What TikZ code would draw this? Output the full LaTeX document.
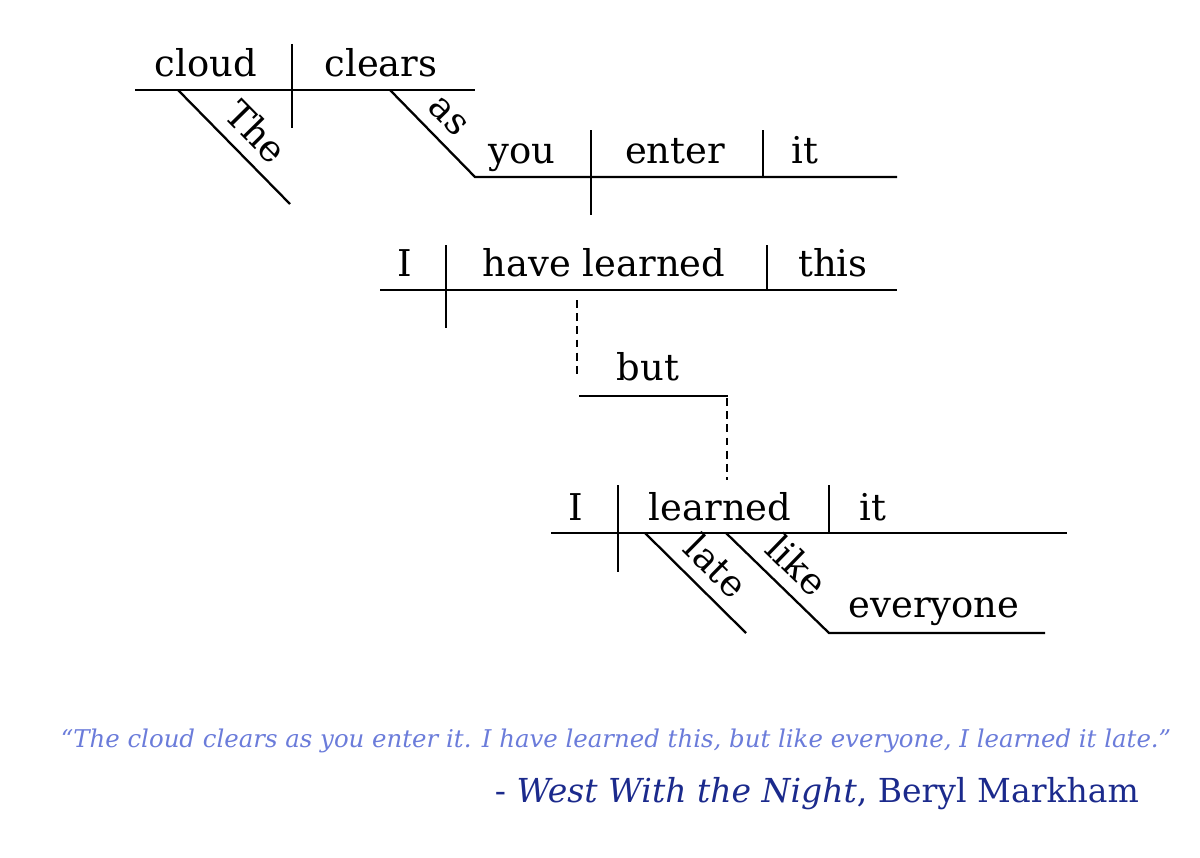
\documentclass[tikz,border=0pt]{standalone}
\usepackage{fontspec}
\setmainfont{DejaVu Serif}
\definecolor{quoteblue}{HTML}{6B7CDA}
\definecolor{creditblue}{HTML}{1B2A8C}

\begin{document}
\begin{tikzpicture}[
  x=0.2mm, y=-0.2mm, line width=1.3pt,
  word/.style={anchor=base, inner sep=0pt, font=\fontsize{21}{24}\selectfont},
  slant/.style={sloped, above, inner sep=6.5pt, font=\fontsize{21}{24}\selectfont},
  link/.style={line width=1.2pt, dash pattern=on 4.5pt off 3pt}
]
\useasboundingbox (0,0) rectangle (1200,857);
% the cloud clears as you enter it
\coordinate (cl-w) at (135,90);
\coordinate (cl-e) at (475,90);
\coordinate (cl-dt) at (292,44);
\coordinate (cl-db) at (292,128);
\coordinate (the-a) at (178,90);
\coordinate (the-b) at (290,204);
\coordinate (as-a) at (390,90);
\coordinate (as-b) at (475,177);
\coordinate (yo-e) at (897,177);
\coordinate (yo-dt) at (591,130);
\coordinate (yo-db) at (591,215);
\coordinate (yo-ot) at (763,130);
\coordinate (yo-ob) at (763,177);
\node[word] (cloud) at (206,77) {cloud};
\node[word] (clears) at (381,77) {clears};
\node[word] (you) at (522,163) {you};
\node[word] (enter) at (675,163) {enter};
\node[word] (it1) at (805,163) {it};
\draw (cl-w) -- (cl-e);
\draw (cl-dt) -- (cl-db);
\draw (the-a) -- node[slant, pos=0.53] (the) {The} (the-b);
\draw (as-a) -- node[slant, pos=0.49] (as) {as} (as-b) -- (yo-e);
\draw (yo-dt) -- (yo-db);
\draw (yo-ot) -- (yo-ob);

% I have learned this
\coordinate (hl-w) at (380,290);
\coordinate (hl-e) at (897,290);
\coordinate (hl-dt) at (446,245);
\coordinate (hl-db) at (446,328);
\coordinate (hl-ot) at (767,245);
\coordinate (hl-ob) at (767,290);
\node[word] (I1) at (405,276) {I};
\node[word] (haslearned) at (604,276) {have learned};
\node[word] (this) at (833,276) {this};
\draw (hl-w) -- (hl-e);
\draw (hl-dt) -- (hl-db);
\draw (hl-ot) -- (hl-ob);

% but
\coordinate (bu-w) at (579,396);
\coordinate (bu-e) at (728,396);
\coordinate (up-a) at (577,300);
\coordinate (up-b) at (577,378);
\coordinate (dn-a) at (727,398);
\coordinate (dn-b) at (727,480);
\node[word] (but) at (648,380) {but};
\draw (bu-w) -- (bu-e);
\draw[link] (up-a) -- (up-b);
\draw[link] (dn-a) -- (dn-b);

% I learned it late like everyone
\coordinate (le-w) at (551,533);
\coordinate (le-e) at (1067,533);
\coordinate (le-dt) at (618,485);
\coordinate (le-db) at (618,572);
\coordinate (le-ot) at (829,485);
\coordinate (le-ob) at (829,533);
\coordinate (late-a) at (645,533);
\coordinate (late-b) at (746,633);
\coordinate (like-a) at (726,533);
\coordinate (like-b) at (829,633);
\coordinate (ev-e) at (1045,633);
\node[word] (I2) at (576,520) {I};
\node[word] (learned) at (720,520) {learned};
\node[word] (it2) at (873,520) {it};
\node[word] (everyone) at (934,617) {everyone};
\draw (le-w) -- (le-e);
\draw (le-dt) -- (le-db);
\draw (le-ot) -- (le-ob);
\draw (late-a) -- node[slant, pos=0.52] (late) {late} (late-b);
\draw (like-a) -- node[slant, pos=0.51] (like) {like} (like-b) -- (ev-e);

% quotation
\node[anchor=base, inner sep=0pt, text=quoteblue, font=\itshape\fontsize{13.9}{16}\selectfont] (quote) at (616,747)
  {``The cloud clears as you enter it. I have learned this, but like everyone, I learned it late.''};
\node[anchor=base east, inner sep=0pt, text=creditblue, font=\fontsize{18.8}{22}\selectfont] (credit) at (1140,802)
  {- \textit{West With the Night}, Beryl Markham};
\end{tikzpicture}
\end{document}
